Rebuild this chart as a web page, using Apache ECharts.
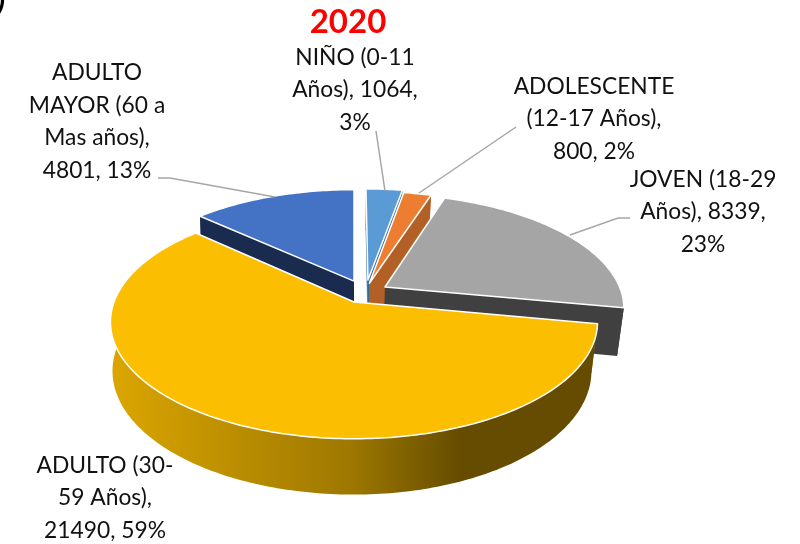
<!DOCTYPE html>
<html>
<head>
<meta charset="utf-8">
<title>2020</title>
<style>
  html, body { margin: 0; padding: 0; background: #fff; }
  #chart { width: 800px; height: 544px; }
</style>
<script src="https://cdn.jsdelivr.net/npm/echarts@6/dist/echarts.min.js"></script>
</head>
<body>
<div id="chart"></div>
<script>
// data
const categories = ["NIÑO (0-11 Años)", "ADOLESCENTE (12-17 Años)", "JOVEN (18-29 Años)", "ADULTO (30-59 Años)", "ADULTO MAYOR (60 a Mas años)"];
const values = [1064, 800, 8339, 21490, 4801];
const titleText = "2020";
const labelTexts = [
  "NIÑO (0-11\nAños), 1064,\n3%",
  "ADOLESCENTE\n(12-17 Años),\n800, 2%",
  "JOVEN (18-29\nAños), 8339,\n23%",
  "ADULTO (30-\n59 Años),\n21490, 59%",
  "ADULTO\nMAYOR (60 a\nMas años),\n4801, 13%",
];

// styles, same order as categories
const topColors = ["#5B9BD5", "#ED7D31", "#A5A5A5", "#FBBE00", "#4472C4"];
const sideColors = ["#2E6D9E", "#B26026", "#404040", "#9E7800", "#1A2B50"];
const explode = [[0.06, 0.2], [0.066, 0.17], [0.132, 0.135], [0, 0], [0, 0.19]];
const paintOrder = [2, 3, 4, 5, 1]; // back slices first
const labelPos = [[355, 90], [594, 119], [703, 212], [105, 498], [97, 121.5]];
const leaderLines = [
  [[376, 131], [385, 191]],
  [[516, 127], [419, 193]],
  [[630, 218], [618, 218], [570, 235]],
  [[158, 178], [170, 178], [275, 197]],
];

// tilted disc, top and bottom face have their own projection
const topFace = { cx: 354, cy: 302, a: 240, aLeft: 240, b: 113.5, k: 0.17 };
const bottomFace = { cx: 354, cy: 350, a: 234, aLeft: 238, b: 120, k: 0.17 };

function project(face, x, y) {
  const d = 1 + face.k * y;
  return [face.cx + (x < 0 ? face.aLeft : face.a) * x / d, face.cy - face.b * y / d];
}

function arcPoints(face, off, from, to) {
  const pts = [];
  const n = Math.max(2, Math.ceil((to - from) / (Math.PI / 180)));
  for (let i = 0; i <= n; i++) {
    const t = from + (to - from) * i / n;
    pts.push(project(face, off[0] + Math.sin(t), off[1] + Math.cos(t)));
  }
  return pts;
}

const total = values.reduce((s, v) => s + v, 0);

function renderSlice(params, api) {
  const i = params.dataIndex;
  let before = 0;
  for (let j = 0; j < i; j++) before += values[j];
  const from = before / total * Math.PI * 2;
  const to = from + api.value(0) / total * Math.PI * 2;
  const off = explode[i];
  const z = paintOrder[i] * 10;

  const topArc = arcPoints(topFace, off, from, to);
  const bottomArc = arcPoints(bottomFace, off, from, to);
  const topApex = project(topFace, off[0], off[1]);
  const bottomApex = project(bottomFace, off[0], off[1]);

  let rimFill = sideColors[i];
  if (i === 3) {
    rimFill = new echarts.graphic.LinearGradient(0, 0, 1, 0, [
      { offset: 0, color: "#DBA600" },
      { offset: 0.49, color: "#9E7800" },
      { offset: 0.72, color: "#654C00" },
      { offset: 1, color: "#654C00" },
    ]);
  }

  const wall = (pts, fill) => ({
    type: "polygon", z2: z, silent: true,
    shape: { points: pts },
    style: { fill: fill, stroke: null },
  });

  return {
    type: "group",
    children: [
      wall([topApex, topArc[0], bottomArc[0], bottomApex], sideColors[i]),
      wall([topApex, topArc[topArc.length - 1], bottomArc[bottomArc.length - 1], bottomApex], sideColors[i]),
      wall(topArc.concat(bottomArc.slice().reverse()), rimFill),
      {
        type: "polygon", z2: z + 1, silent: true,
        shape: { points: [topApex].concat(topArc) },
        style: { fill: topColors[i], stroke: "#fff", lineWidth: 1.5, lineJoin: "round" },
      },
    ],
  };
}

const chart = echarts.init(document.getElementById("chart"), null, { renderer: "canvas" });

const labelFont = '22.8px Lato, "Open Sans", sans-serif';
const graphics = [];
leaderLines.forEach((pts) => {
  graphics.push({
    type: "polyline", silent: true, z: 3,
    shape: { points: pts },
    style: { stroke: "#A6A6A6", lineWidth: 1.5, fill: null },
  });
});
labelTexts.forEach((txt, i) => {
  graphics.push({
    type: "text", silent: true, z: 4,
    x: labelPos[i][0], y: labelPos[i][1],
    style: {
      text: txt, font: labelFont, fill: "#111", lineHeight: 32.5,
      align: "center", verticalAlign: "middle",
    },
  });
});
// piece of the closing bracket cut off at the top left corner
graphics.push({
  type: "text", silent: true, z: 4, x: -3, y: -16,
  style: { text: ")", font: 'bold 30px Lato, sans-serif', fill: "#000" },
});

chart.setOption({
  animation: false,
  backgroundColor: "#fff",
  title: {
    text: titleText, left: 343, top: 1, textAlign: "center",
    textStyle: { color: "#FF0000", fontSize: 33, fontWeight: "bold", fontFamily: "Lato, sans-serif" },
  },
  graphic: graphics,
  series: [{
    type: "custom",
    coordinateSystem: "none",
    renderItem: renderSlice,
    data: values.map((v, i) => ({ name: categories[i], value: [v] })),
    z: 2,
    silent: true,
  }],
});

window.addEventListener("resize", () => chart.resize());
</script>
</body>
</html>
